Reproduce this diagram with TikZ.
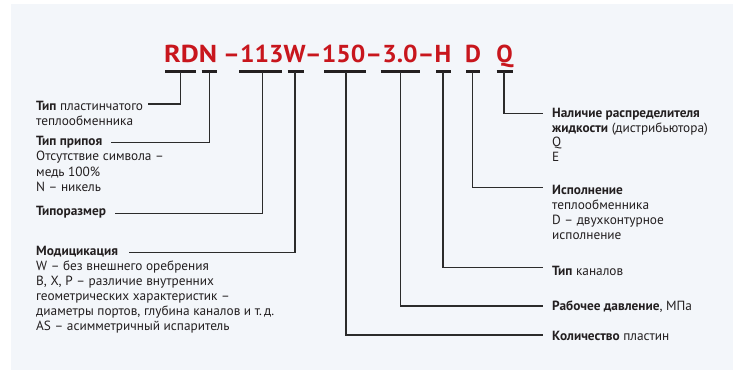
\documentclass[tikz,border=0pt]{standalone}
\usepackage{fontspec}
\setmainfont{PT Sans}
\usepackage{graphicx}
\definecolor{bgc}{HTML}{F3F6FA}
\definecolor{redc}{HTML}{C8161D}
\definecolor{txt}{HTML}{231F20}
\definecolor{linec}{HTML}{2B2B2B}
\tikzset{
  bar/.style={line width=3pt, draw=txt},
  conn/.style={line width=1.2pt, draw=linec},
  ttl/.style={anchor=base west, inner sep=0pt, text=redc, font=\fontsize{24.5}{26}\selectfont\bfseries},
  lbl/.style={anchor=base west, inner sep=0pt, text=txt, font=\fontsize{13.3}{15.3}\selectfont},
}
\newcommand{\blk}[2]{\parbox[t]{300pt}{\raggedright\fontsize{13.3}{#1}\selectfont #2}}
\begin{document}
\begin{tikzpicture}[x=1pt,y=-1pt]
\useasboundingbox (0,0) rectangle (733,370);
\fill[white] (0,0) rectangle (733,370);
\fill[bgc] (11,4) rectangle (733,370);
% title
\node[ttl] (tRDN) at (164,62.3) {\resizebox{53pt}{\height}{RDN}};
\node[ttl] (tMid) at (223,62.3) {\resizebox{228pt}{\height}{–113W–150–3.0–H}};
\node[ttl, anchor=base] (tD) at (473,62.3) {D};
\node[ttl, anchor=base] (tQ) at (504.5,62.3) {Q};
% bars
\draw[bar] (165,71.7) -- (195.7,71.7);
\draw[bar] (201.7,71.7) -- (216.7,71.7);
\draw[bar] (239.3,71.7) -- (281.7,71.7);
\draw[bar] (287.7,71.7) -- (304,71.7);
\draw[bar] (324,71.7) -- (366,71.7);
\draw[bar] (380.7,71.7) -- (420,71.7);
\draw[bar] (436,71.7) -- (450.7,71.7);
\draw[bar] (466,71.7) -- (480,71.7);
\draw[bar] (496.7,71.7) -- (512.7,71.7);
% stem coordinates
\coordinate (sRDN) at (180.7,72);
\coordinate (sN) at (209.3,72);
\coordinate (s113) at (262.7,72);
\coordinate (sW) at (295,72);
\coordinate (s150) at (346,72);
\coordinate (s30) at (400.7,72);
\coordinate (sH) at (443,72);
\coordinate (sD) at (472.7,72);
\coordinate (sQ) at (504,72);
% line ends
\coordinate (eRDN) at (148,104);
\coordinate (eN) at (110.7,142.8);
\coordinate (e113) at (115,213.5);
\coordinate (eW) at (129.3,252.3);
\coordinate (e150) at (543.3,335);
\coordinate (e30) at (543.3,306);
\coordinate (eH) at (543.3,267.3);
\coordinate (eD) at (543.3,187.7);
\coordinate (eQ) at (543.3,113.3);
% labels
\node[lbl] (lA) at (36,110) {\blk{15.5}{\textbf{Тип} пластинчатого\\теплообменника}};
\node[lbl] (lB) at (36,145.5) {\blk{15.3}{\textbf{Тип припоя}\\Отсутствие символа –\\медь 100\%\\N – никель}};
\node[lbl] (lC) at (36,215.5) {\textbf{Типоразмер}};
\node[lbl] (lD) at (36,255) {\blk{15}{\textbf{Модицикация}\\W – без внешнего оребрения\\B, X, P – различие внутренних\\геометрических характеристик –\\диаметры портов, глубина каналов и т.\,д.\\AS – асимметричный испаритель}};
\node[lbl] (rQ) at (552,117.3) {\blk{14.8}{\textbf{Наличие распределителя}\\\textbf{жидкости} (дистрибьютора)\\Q\\E}};
\node[lbl] (rD) at (552,194) {\blk{15.1}{\textbf{Исполнение}\\теплообменника\\D – двухконтурное\\исполнение}};
\node[lbl] (rH) at (552,275) {\textbf{Тип} каналов};
\node[lbl] (r30) at (552,310) {\textbf{Рабочее давление}, МПа};
\node[lbl] (r150) at (552,340) {\textbf{Количество} пластин};
% connectors
\draw[conn] (sRDN) |- (eRDN);
\draw[conn] (sN) |- (eN);
\draw[conn] (s113) |- (e113);
\draw[conn] (sW) |- (eW);
\draw[conn] (s150) |- (e150);
\draw[conn] (s30) |- (e30);
\draw[conn] (sH) |- (eH);
\draw[conn] (sD) |- (eD);
\draw[conn] (sQ) |- (eQ);
\end{tikzpicture}
\end{document}
